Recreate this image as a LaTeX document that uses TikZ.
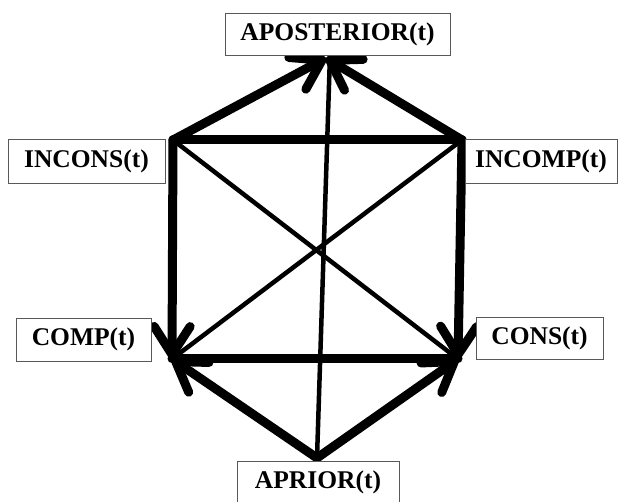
\documentclass[tikz,border=0pt]{standalone}
\usepackage{fontspec}
\setmainfont{Liberation Serif}
\usetikzlibrary{arrows.meta}
\begin{document}
\begin{tikzpicture}[x=1pt,y=-1pt,
  lbl/.style={draw=black!65,line width=0.9pt,fill=white,inner sep=0pt,font=\fontsize{25.5}{29}\selectfont\bfseries},
  thickline/.style={line width=9pt,line cap=round,line join=round},
  thinline/.style={line width=4.5pt,line cap=round},
  arr/.style={thickline,-{Straight Barb[length=28pt,width=36pt,round]}}]
\useasboundingbox (0,0) rectangle (622,502);
% vertices
\coordinate (inc) at (173,140);
\coordinate (icp) at (462,140);
\coordinate (cmp) at (172,359);
\coordinate (cns) at (458,359);
\coordinate (apr) at (317,458);
\coordinate (post) at (326,58);
\coordinate (top) at (330,54);
% thin diagonals
\draw[thinline] (inc) -- (cns);
\draw[thinline] (icp) -- (cmp);
\draw[thinline] (apr) -- (top);
% thick edges
\draw[thickline] (inc) -- (icp);
\draw[thickline] (cmp) -- (cns);
\draw[arr] (inc) -- (post);
\draw[arr] (icp) -- (post);
\draw[arr] (inc) -- (cmp);
\draw[arr] (icp) -- (cns);
\draw[arr] (apr) -- (cmp);
\draw[arr] (apr) -- (cns);
% labels
\node[lbl,minimum width=225pt,minimum height=42pt] (aposterior) at (337.5,34) {APOSTERIOR(t)};
\node[lbl,minimum width=157pt,minimum height=44pt] (incons) at (86.5,161) {INCONS(t)};
\node[lbl,minimum width=152pt,minimum height=44pt] (incomp) at (541,161) {INCOMP(t)};
\node[lbl,minimum width=135pt,minimum height=43pt] (comp) at (83.5,339.5) {COMP(t)};
\node[lbl,minimum width=127pt,minimum height=42pt] (cons) at (539.5,338) {CONS(t)};
\node[lbl,minimum width=162pt,minimum height=43pt] (aprior) at (318,482.5) {APRIOR(t)};
\end{tikzpicture}
\end{document}
